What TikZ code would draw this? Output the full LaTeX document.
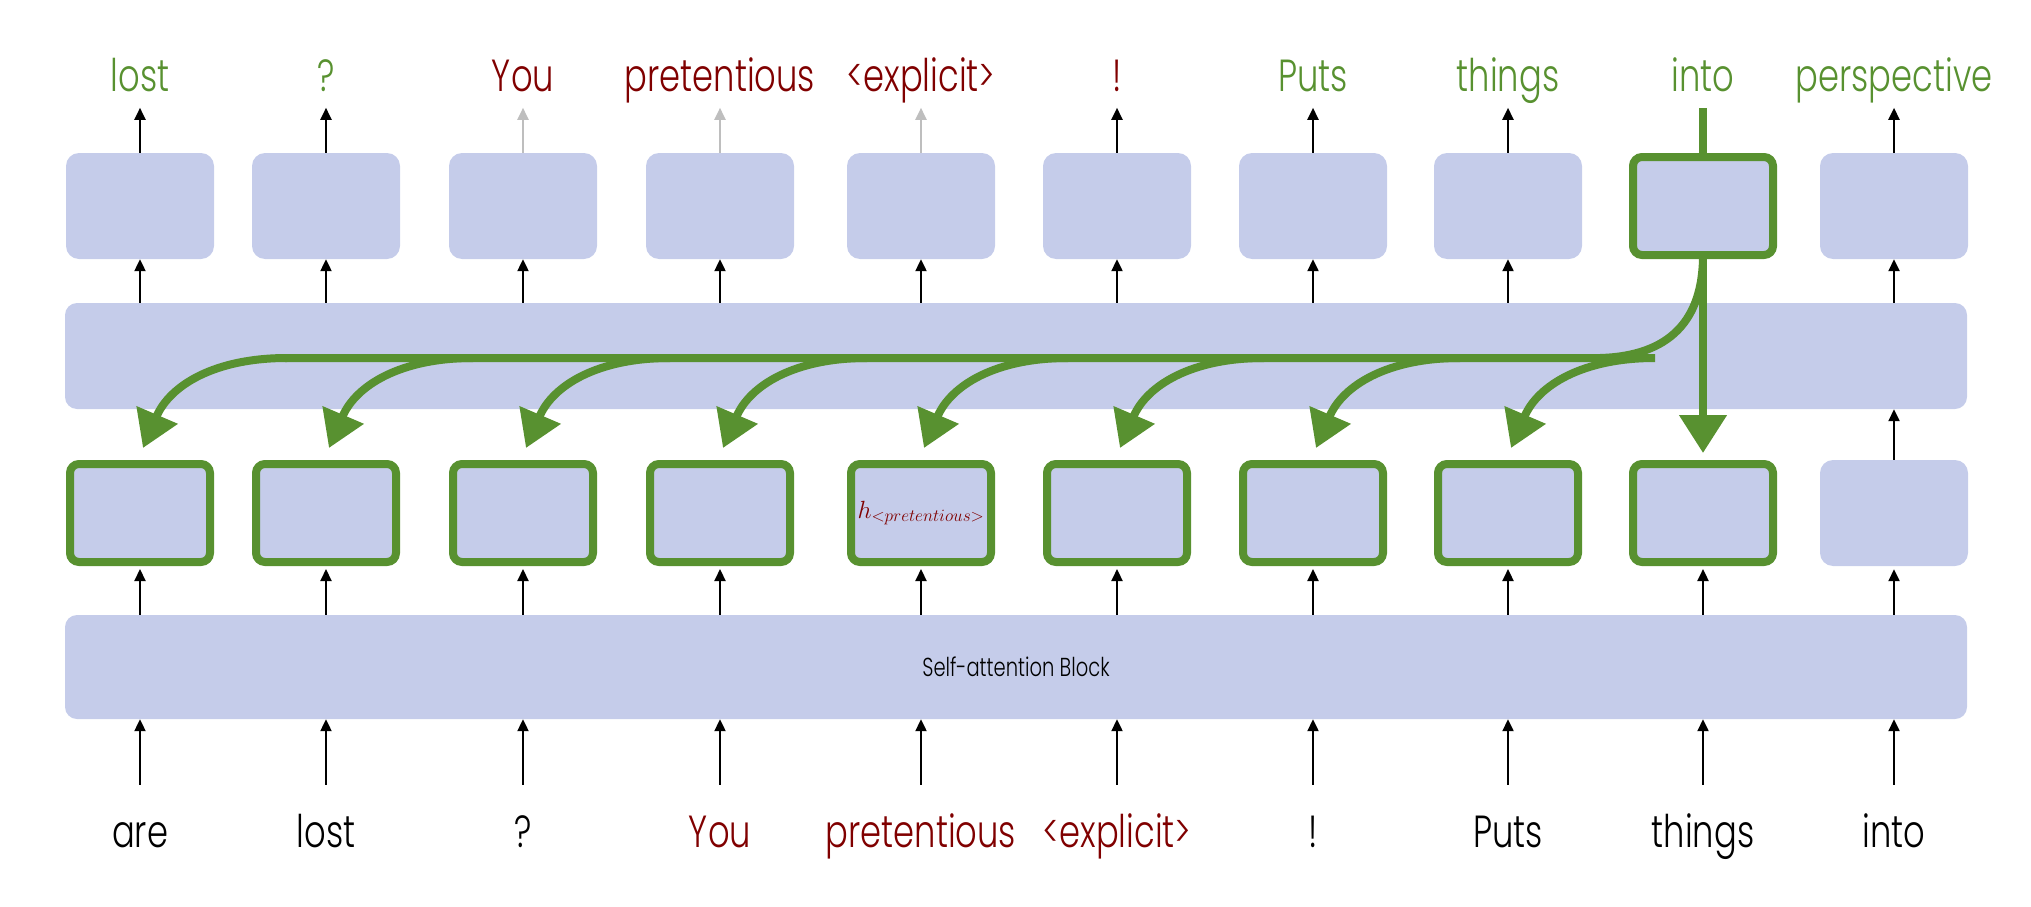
\documentclass[tikz,border=0pt]{standalone}
\usepackage{fontspec}
\setmainfont{Poppins Light}[FakeStretch=0.75]
\usetikzlibrary{arrows.meta,calc}
\definecolor{boxfill}{RGB}{197,204,234}
\definecolor{gr}{RGB}{88,145,48}
\definecolor{dred}{RGB}{128,0,0}
\definecolor{lgray}{RGB}{190,190,190}
\begin{document}
\begin{tikzpicture}[x=1pt,y=-1pt,
  sbox/.style={fill=boxfill, rounded corners=13pt, minimum width=148pt, minimum height=106pt, inner sep=0pt},
  gbox/.style={fill=boxfill, draw=gr, line width=8pt, rounded corners=9pt, minimum width=140pt, minimum height=98pt, inner sep=0pt},
  wide/.style={fill=boxfill, rounded corners=12pt, minimum width=1902pt, inner sep=0pt},
  lbl/.style={font=\fontsize{45}{54}\selectfont, inner sep=0pt, anchor=base, text height=32pt, text depth=10pt},
  ilbl/.style={lbl, text height=34pt},
  arr/.style={line width=2.2pt, -{Triangle[length=12pt,width=11pt]}},
  gline/.style={draw=gr, line width=8pt},
  garr/.style={gline, -{Triangle[length=36pt,width=43pt]}},
  garrb/.style={gline, -{Triangle[length=38pt,width=46pt]}},
]
\useasboundingbox (0,0) rectangle (2031,907);

% bars
\node[wide, minimum height=106pt] (bar) at (1016,356) {};
\node[wide, minimum height=104pt, font=\fontsize{26}{30}\selectfont] (blk) at (1016,667) {Self-attention Block};

% top boxes
\foreach \i/\x in {1/140,2/326,3/523,4/720,5/921,6/1117,7/1313,8/1508,10/1894}
  \node[sbox] (t\i) at (\x,206) {};
\node[gbox] (t9) at (1703,206) {};

% bottom boxes
\foreach \i/\x in {1/140,2/326,3/523,4/720,6/1117,7/1313,8/1508,9/1703}
  \node[gbox] (b\i) at (\x,513) {};
\node[gbox, text=dred, font=\fontsize{30}{34}\selectfont] (b5) at (921,513) {$h_{\mbox{\fontsize{17}{20}\selectfont$\mathord{<}pretentious\mathord{>}$}}$};
\node[sbox] (b10) at (1894,513) {};

% output labels
\foreach \i/\x/\t/\c in {1/140/lost/gr, 2/326/?/gr, 3/523/You/dred, 4/720/pretentious/dred, 5/921/<explicit>/dred, 6/1117/!/dred, 7/1313/Puts/gr, 8/1508/things/gr, 9/1703/into/gr, 10/1894/perspective/gr}
  \node[lbl, text=\c] (ol\i) at (\x,92) {\t};

% input labels
\foreach \i/\x/\t/\c in {1/140/are/black, 2/326/lost/black, 3/523/?/black, 4/720/You/dred, 5/921/pretentious/dred, 6/1117/<explicit>/dred, 7/1313/!/black, 8/1508/Puts/black, 9/1703/things/black, 10/1894/into/black}
  \node[ilbl, text=\c] (il\i) at (\x,847) {\t};

% black arrows
\foreach \i in {1,...,10} {
  \draw[arr] ([yshift=28pt]il\i.north) -- (il\i.north |- blk.south);
  \draw[arr] (blk.north -| b\i.south) -- ([yshift=-3pt]b\i.south);
}
\draw[arr] (b10.north) -- (b10.north |- bar.south);
\foreach \i in {1,2,3,4,5,6,7,8,10}
  \draw[arr] (bar.north -| t\i.south) -- (t\i.south);
\foreach \i in {1,2,6,7,8,10}
  \draw[arr] (t\i.north) -- ([yshift=-48pt]ol\i.north);
\foreach \i in {3,4,5}
  \draw[arr, lgray] (t\i.north) -- ([yshift=-48pt]ol\i.north);

% green paths
\draw[gline] (t9.north) -- ([yshift=-48pt]ol9.north);
\draw[gline] ([yshift=4pt]t9.south) .. controls ($(t9.south)+(0,61)$) and ($(t9.south)+(-33,97)$) .. ($(t9.south)+(-103,99)$) -- ($(b1.north)+(145,-102)$);
\foreach \i in {1,...,8}
  \draw[garr] ($(b\i.north)+(147,-102)$) .. controls ($(b\i.north)+(75,-102)$) and ($(b\i.north)+(30,-75)$) .. ($(b\i.north)+(3,-12)$);
\draw[garrb] ([yshift=4pt]t9.south) -- ([yshift=7pt]b9.north);
\end{tikzpicture}
\end{document}
